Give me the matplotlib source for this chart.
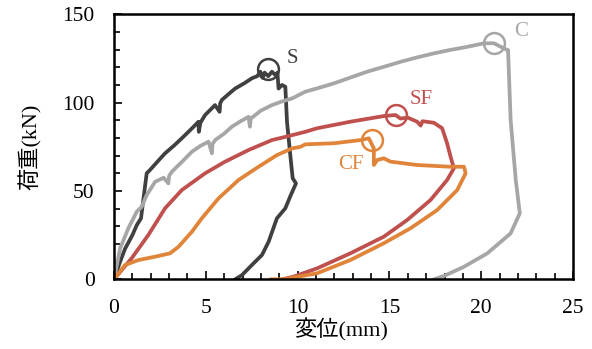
import matplotlib
matplotlib.use('Agg')
import matplotlib.pyplot as plt
from matplotlib.ticker import MultipleLocator

plt.rcParams['font.family'] = ['Liberation Serif', 'Noto Sans CJK JP']

# S specimen
s_x = [0, 0.3, 0.6, 1.0, 1.24, 1.47, 1.62, 1.78, 1.96, 2.4, 2.78, 3.3, 3.78, 4.3, 4.6, 4.62, 4.7, 4.96,
       5.3, 5.5, 5.75, 5.78, 5.87, 6.2, 6.6, 7.1, 7.51, 7.8, 7.97, 8.1, 8.2, 8.4, 8.6, 8.8, 8.9,
       8.96, 9.15, 9.33, 9.42, 9.6, 9.73, 9.91, 9.6, 9.33, 8.87, 8.42, 8.06, 7.51, 6.97, 6.6]
s_y = [0, 9, 17.3, 25, 30.7, 34.5, 47, 60, 61.9, 67, 71.3, 76, 80.7, 86, 89.2, 83.5, 88.5, 93,
       96.5, 98.6, 94.8, 99.5, 101.5, 104.5, 108, 111, 113.8, 115, 117.5, 114, 117, 115, 117.5, 115.5, 117,
       108, 110, 109, 89.2, 70.3, 57.2, 54.3, 47, 40.2, 34.5, 21.3, 13.8, 8.1, 2.4, 0]
s_peak = (8.4, 119)

# C specimen
c_x = [0, 0.33, 0.78, 1.24, 1.51, 1.78, 2.24, 2.7, 2.96, 3.0, 3.15, 3.7, 4.24, 4.7, 5.15, 5.33, 5.36, 5.51,
       6.0, 6.42, 6.9, 7.33, 7.4, 7.45, 8.0, 8.6, 9.1, 9.7, 10.42, 11.2, 11.97, 12.9, 13.78, 14.7,
       15.6, 16.5, 17.42, 18.3, 19.24, 20.15, 20.7, 21.06, 21.42, 21.46, 21.6, 21.88, 22.1,
       21.6, 20.33, 19.06, 17.97, 17.42]
c_y = [0, 17.5, 28.9, 38.3, 41.1, 47.7, 55.2, 57.5, 54.3, 58.5, 60.9, 66.5, 72.2, 75.5, 77.9, 71.3, 76.5, 78.8,
       82.5, 86.4, 89.5, 92, 86.4, 91, 95.5, 98.6, 100.5, 102.4, 106.2, 108.5, 110.9, 114.3, 117.5, 120.3,
       123.1, 125.6, 127.9, 129.8, 131.6, 133.6, 133.6, 131.6, 129.8, 129.8, 90.2, 56.2, 37.4,
       26, 14.7, 7.1, 1.9, 0]
c_peak = (20.7, 133.6)

# SF specimen
sf_x = [0, 0.96, 1.87, 2.78, 3.69, 4.96, 6.05, 7.33, 8.6, 9.24, 10.42, 11.06, 12.87, 14.69, 15.33, 15.6,
        16.0, 16.51, 16.7, 16.8, 17.42, 17.87, 18.14, 18.33, 18.51,
        18.14, 17.24, 15.97, 14.69, 12.87, 11.06, 9.78, 9.15]
sf_y = [0, 11.9, 25.1, 40.2, 50.5, 60, 66.6, 73.2, 78.8, 80.4, 83.5, 85.5, 89.2, 92.4, 93, 91,
        91.5, 89.2, 87, 89.5, 88.6, 85.5, 77, 69.4, 62.8,
        56.2, 44.9, 33.6, 24.1, 14.7, 6.2, 1.5, 0]
sf_peak = (15.33, 93)

# CF specimen
cf_x = [0, 0.6, 1.33, 2.24, 3.05, 3.51, 4.24, 4.78, 5.69, 6.78, 7.87, 8.6, 8.87, 9.7, 10.15, 10.42,
        11.97, 13.42, 13.88, 14.15, 14.15, 14.33, 14.69, 15.06, 16.51, 18.33, 19.06, 19.15,
        18.69, 17.6, 16.15, 14.69, 12.87, 11.06, 9.24, 8.5]
cf_y = [0, 8.1, 10.9, 12.8, 14.7, 18.4, 26.9, 34.5, 45.8, 56.2, 63.7, 68.5, 70.3, 74.1, 75, 76.4,
        77, 78.8, 79.8, 74.1, 64.7, 67.5, 68.5, 66.6, 64.7, 63.7, 63.7, 60,
        50.5, 39.2, 28.9, 20.4, 10.9, 3.4, 0, 0]
cf_peak = (14.05, 78.8)

fig = plt.figure(figsize=(5.92, 3.49), dpi=100)
ax = fig.add_axes([0.1926, 0.1997, 0.7754, 0.7593])

series = [
    (s_x, s_y, s_peak, '#404040', 'S', (9.4, 125), 'left'),
    (c_x, c_y, c_peak, '#a6a6a6', 'C', (21.8, 140), 'left'),
    (sf_x, sf_y, sf_peak, '#c0504d', 'SF', (16.1, 102), 'left'),
    (cf_x, cf_y, cf_peak, '#e0843a', 'CF', (13.6, 65), 'right'),
]
for x, y, peak, col, name, pos, ha in series:
    ax.plot(x, y, color=col, lw=2.7, solid_joinstyle='round', solid_capstyle='round')
    ax.plot(*peak, 'o', ms=15, mfc='none', mec=col, mew=1.8)
    ax.text(pos[0], pos[1], name, color=col, fontsize=15, ha=ha, va='center')

ax.set_xlim(0, 25)
ax.set_ylim(0, 150)
ax.xaxis.set_major_locator(MultipleLocator(5))
ax.xaxis.set_minor_locator(MultipleLocator(1))
ax.yaxis.set_major_locator(MultipleLocator(50))
ax.yaxis.set_minor_locator(MultipleLocator(10))
ax.tick_params(which='both', direction='in', labelsize=15.5, width=1.2, pad=14)
ax.tick_params(which='major', length=6)
ax.tick_params(which='minor', length=4)
for sp in ax.spines.values():
    sp.set_linewidth(1.8)

ax.set_xlabel('変位(mm)', fontsize=16)
ax.set_ylabel('荷重(kN)', fontsize=16)
ax.xaxis.label.set_va('center')
ax.yaxis.label.set_va('center')
ax.xaxis.set_label_coords(0.495, -0.19)
ax.yaxis.set_label_coords(-0.183, 0.5)

fig.savefig('out.png', dpi=100)
